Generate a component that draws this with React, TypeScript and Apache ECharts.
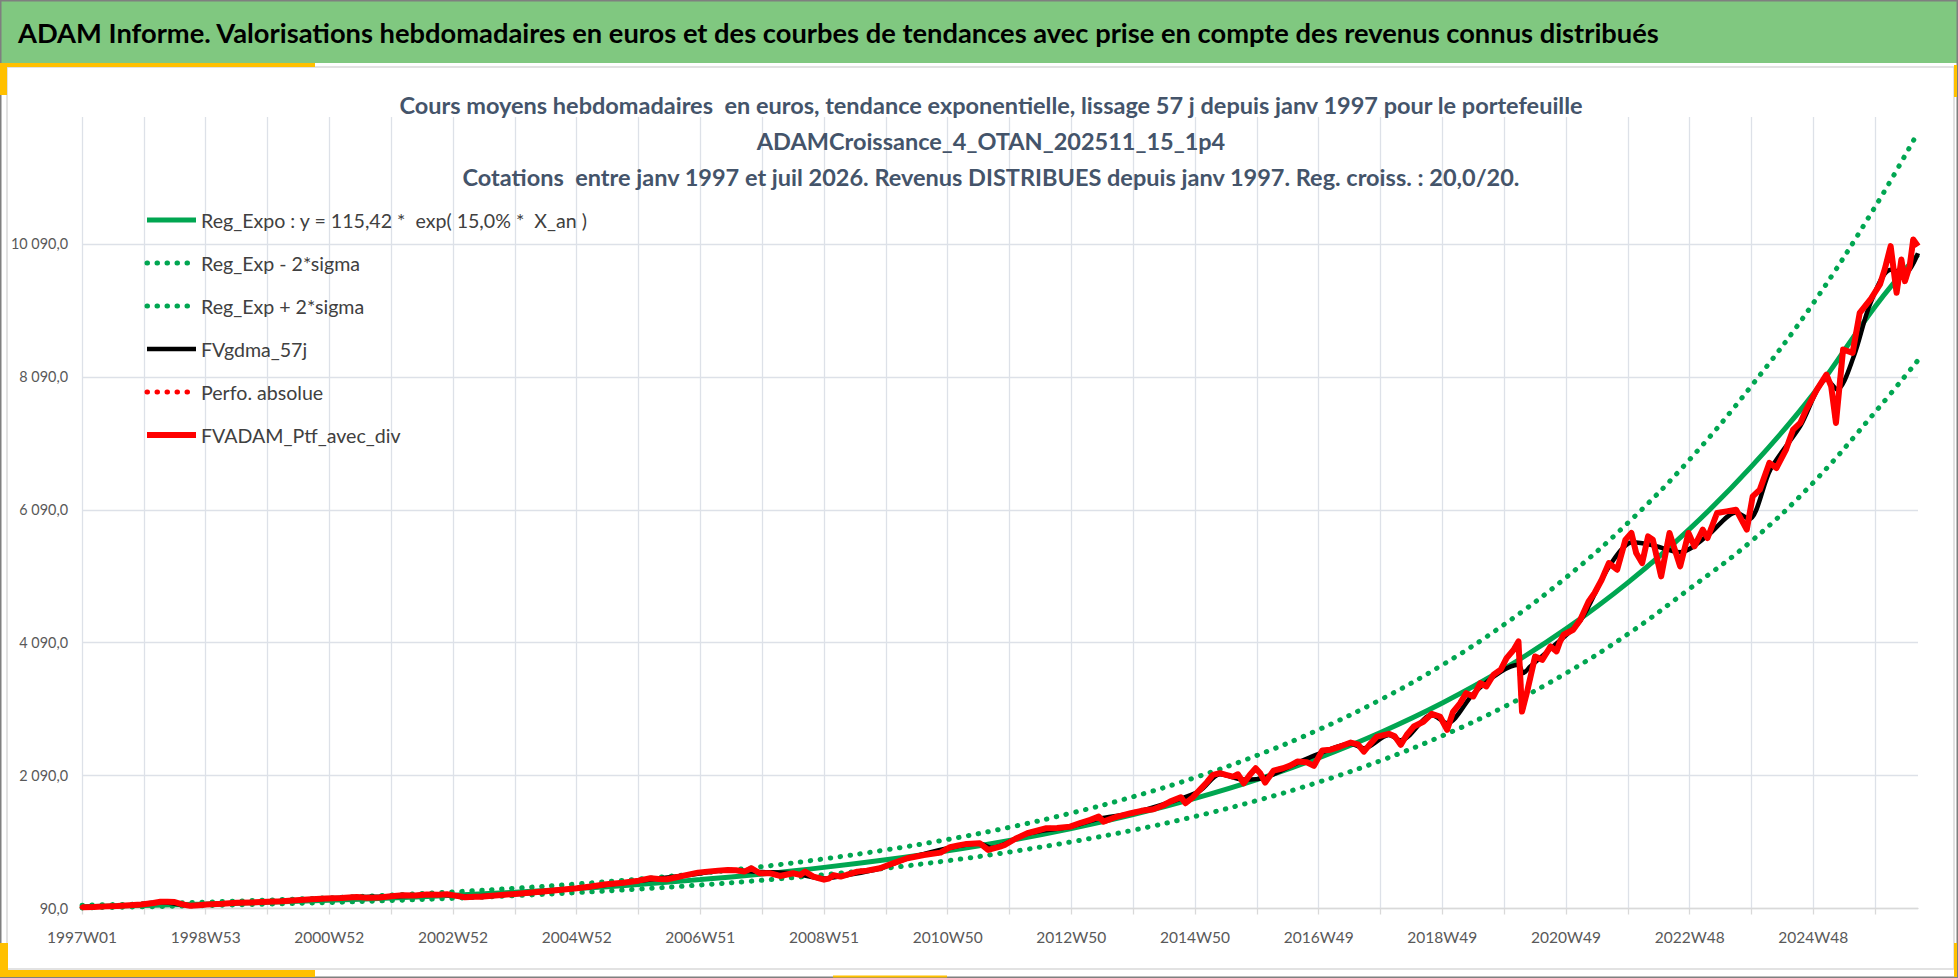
import React, { useEffect, useRef } from "react";
import * as echarts from "echarts";

const MAIN_TITLE =
  "ADAM Informe. Valorisations hebdomadaires en euros et des courbes de tendances avec prise en compte des revenus connus distribués";
const SUBTITLE_LINES = [
  "Cours moyens hebdomadaires  en euros, tendance exponentielle, lissage 57 j depuis janv 1997 pour le portefeuille",
  "ADAMCroissance_4_OTAN_202511_15_1p4",
  "Cotations  entre janv 1997 et juil 2026. Revenus DISTRIBUES depuis janv 1997. Reg. croiss. : 20,0/20.",
];
const X_TICK_LABELS = [
  "1997W01", "1998W53", "2000W52", "2002W52", "2004W52", "2006W51", "2008W51", "2010W50",
  "2012W50", "2014W50", "2016W49", "2018W49", "2020W49", "2022W48", "2024W48",
];
const WEEKS_PER_LABEL = 104;
const WEEKS_PER_GRID = 52;
const LAST_WEEK = 1544;
const Y_MIN = 90;
const Y_MAX = 12000;
const Y_STEP = 2000;

const SERIES_NAMES = [
  "Reg_Expo : y = 115,42 *  exp( 15,0% *  X_an )",
  "Reg_Exp - 2*sigma",
  "Reg_Exp + 2*sigma",
  "FVgdma_57j",
  "Perfo. absolue",
  "FVADAM_Ptf_avec_div",
];

const REG_WEEKS = [0, 52, 104, 156, 208, 260, 312, 364, 416, 468, 520, 572, 624, 676, 728, 780, 832, 884, 936, 988, 1040, 1092, 1144, 1196, 1248, 1300, 1352, 1404, 1456, 1508, 1544];
const REG_EXPO = [117, 136, 158, 184, 213, 248, 288, 335, 389, 452, 525, 610, 709, 824, 957, 1112, 1293, 1502, 1746, 2028, 2357, 2739, 3182, 3698, 4297, 4993, 5802, 6742, 7834, 9150, 9930];
const REG_PLUS = [138, 160, 186, 217, 251, 293, 340, 395, 459, 533, 620, 720, 837, 972, 1129, 1312, 1526, 1772, 2060, 2393, 2781, 3232, 3755, 4364, 5070, 5892, 6846, 7956, 9200, 10650, 11770];
const REG_MINUS = [99, 115, 134, 155, 180, 210, 243, 283, 329, 382, 444, 515, 599, 696, 809, 940, 1093, 1269, 1475, 1714, 1992, 2314, 2689, 3125, 3631, 4219, 4903, 5620, 6500, 7560, 8340];

const FVGDMA: [number, number][] = [
  [0, 110], [40, 138], [66, 185], [91, 140], [130, 172], [156, 190], [205, 238], [231, 262], [260, 270],
  [300, 300], [322, 268], [364, 305], [416, 392], [468, 505], [509, 590], [543, 665], [570, 640], [598, 618],
  [624, 540], [643, 590], [671, 690], [694, 840], [730, 1005], [755, 1068], [765, 1000], [795, 1215],
  [831, 1320], [855, 1440], [882, 1520], [915, 1690], [940, 1860], [957, 2110], [977, 2030], [995, 2060],
  [1022, 2280], [1043, 2440], [1067, 2570], [1078, 2500], [1099, 2700], [1109, 2620], [1135, 3000],
  [1148, 2880], [1170, 3320], [1193, 3650], [1208, 3757], [1212, 3632], [1218, 3732], [1235, 4000],
  [1260, 4420], [1284, 5230], [1304, 5600], [1320, 5560], [1344, 5450], [1367, 5700], [1391, 6050],
  [1402, 5950], [1420, 6700], [1445, 7350], [1467, 8050], [1476, 7900], [1490, 8400], [1504, 9200],
  [1521, 9700], [1533, 9650], [1544, 9950],
];

const FVADAM: [number, number][] = [
  [0, 110], [10, 114], [20, 122], [30, 128], [40, 138], [50, 150], [60, 172], [66, 192], [72, 190], [78, 186],
  [85, 150], [91, 130], [98, 140], [105, 150], [118, 160], [130, 175], [143, 182], [156, 192], [168, 200],
  [180, 215], [193, 228], [205, 240], [218, 248], [231, 263], [240, 250], [250, 255], [260, 275], [270, 290],
  [280, 285], [290, 300], [300, 296], [307, 304], [315, 280], [322, 259], [330, 265], [335, 268], [350, 290],
  [364, 308], [378, 330], [390, 350], [403, 372], [416, 394], [428, 420], [441, 454], [455, 478], [468, 509],
  [478, 545], [485, 535], [492, 530], [500, 560], [509, 595], [518, 630], [526, 645], [535, 660], [543, 670],
  [550, 665], [557, 645], [563, 695], [570, 620], [579, 620], [587, 580], [598, 620], [604, 595], [608, 645],
  [615, 570], [620, 545], [624, 524], [628, 540], [632, 590], [638, 570], [643, 595], [652, 645], [660, 660],
  [671, 695], [682, 770], [694, 846], [708, 896], [722, 931], [730, 1012], [737, 1040], [744, 1062],
  [755, 1072], [762, 971], [772, 1021], [776, 1046], [785, 1140], [795, 1222], [803, 1260], [811, 1298],
  [820, 1300], [831, 1322], [840, 1380], [848, 1423], [855, 1472], [859, 1397], [870, 1470], [882, 1524],
  [891, 1560], [901, 1584], [909, 1640], [915, 1698], [924, 1765], [928, 1674], [934, 1760], [940, 1875],
  [946, 1990], [951, 2100], [957, 2126], [962, 2100], [968, 2075], [972, 2110], [977, 1975], [982, 2100],
  [987, 2201], [991, 2120], [995, 1985], [1002, 2165], [1010, 2200], [1016, 2240], [1022, 2301], [1030, 2290],
  [1036, 2236], [1043, 2467], [1050, 2480], [1058, 2527], [1067, 2587], [1073, 2560], [1078, 2451],
  [1083, 2560], [1089, 2677], [1099, 2718], [1104, 2680], [1109, 2552], [1114, 2700], [1120, 2828],
  [1128, 2900], [1135, 3019], [1142, 2979], [1148, 2778], [1153, 3050], [1159, 3180], [1164, 3331],
  [1170, 3280], [1176, 3481], [1181, 3431], [1187, 3607], [1193, 3682], [1198, 3858], [1204, 3983],
  [1208, 4108], [1211, 3054], [1215, 3331], [1222, 3882], [1228, 3832], [1235, 4033], [1240, 3958],
  [1243, 4108], [1246, 4209], [1254, 4284], [1260, 4435], [1267, 4711], [1272, 4837], [1278, 5037],
  [1284, 5288], [1291, 5188], [1298, 5640], [1303, 5740], [1307, 5439], [1312, 5288], [1317, 5690],
  [1321, 5640], [1328, 5087], [1335, 5740], [1344, 5238], [1351, 5740], [1356, 5539], [1363, 5790],
  [1367, 5665], [1375, 6042], [1383, 6066], [1391, 6091], [1400, 5790], [1405, 6292], [1411, 6393],
  [1419, 6795], [1425, 6719], [1433, 6995], [1439, 7296], [1445, 7397], [1450, 7597], [1459, 7898],
  [1467, 8124], [1471, 7948], [1475, 7397], [1481, 8501], [1489, 8451], [1495, 9054], [1504, 9254],
  [1512, 9480], [1516, 9706], [1521, 10057], [1526, 9355], [1530, 9857], [1533, 9530], [1537, 9756],
  [1540, 10157], [1544, 10057],
];

const FONT = "Lato, 'Open Sans', sans-serif";
const GRID_COLOR = "#DDE1E8";
const GREEN = "#00A651";
const RED = "#FF0000";

// Fit a font size so that a text spans the width measured on the reference.
function fitFont(text: string, weight: string, targetWidth: number, fallback: number): number {
  try {
    const ctx = document.createElement("canvas").getContext("2d");
    if (!ctx) return fallback;
    ctx.font = `${weight} 100px ${FONT}`;
    const w = ctx.measureText(text).width;
    if (!w) return fallback;
    return Math.round((100 * targetWidth / w) * 10) / 10;
  } catch (e) {
    return fallback;
  }
}

function fmtY(v: number): string {
  const s = v.toFixed(1);
  const [i, d] = s.split(".");
  return i.replace(/\B(?=(\d{3})+(?!\d))/g, " ") + "," + d;
}

function buildOption(): any {
  const titleSize = fitFont(MAIN_TITLE, "bold", 1645, 27);
  const subSize = fitFont(SUBTITLE_LINES[0], "bold", 1184, 23);
  const legendSize = fitFont(SERIES_NAMES[0], "normal", 387, 19);
  const yLabSize = fitFont("10 090,0", "normal", 57, 15);
  const xLabSize = fitFont("2010W50", "normal", 70, 16);

  const regData = (vals: number[]) => REG_WEEKS.map((w, i) => [w, vals[i]]);
  const dotted = { type: [0.5, 9.5], cap: "round", width: 5 };
  return {
    animation: false,
    textStyle: { fontFamily: FONT },
    graphic: [
      { type: "rect", shape: { x: 0, y: 0, width: 1958, height: 63 }, style: { fill: "#80C880" }, z: 0 },
      { type: "rect", shape: { x: 7, y: 67, width: 1947, height: 902 }, style: { fill: "none", stroke: "#D9D9D9", lineWidth: 1.5 }, z: 0 },
      { type: "rect", shape: { x: 0.75, y: 0.75, width: 1956.5, height: 976.5 }, style: { fill: "none", stroke: "#7F7F7F", lineWidth: 1.5 }, z: 1 },
      { type: "rect", shape: { x: 0, y: 63, width: 315, height: 4 }, style: { fill: "#FFC000" }, z: 1 },
      { type: "rect", shape: { x: 0, y: 63, width: 7, height: 32 }, style: { fill: "#FFC000" }, z: 1 },
      { type: "rect", shape: { x: 0, y: 970, width: 315, height: 7 }, style: { fill: "#FFC000" }, z: 1 },
      { type: "rect", shape: { x: 0, y: 943, width: 8, height: 34 }, style: { fill: "#FFC000" }, z: 1 },
      { type: "rect", shape: { x: 1954, y: 65, width: 3, height: 32 }, style: { fill: "#FFC000" }, z: 1 },
      { type: "rect", shape: { x: 1954, y: 943, width: 3, height: 34 }, style: { fill: "#FFC000" }, z: 1 },
      { type: "rect", shape: { x: 833, y: 975.5, width: 114, height: 2 }, style: { fill: "#FFC000" }, z: 1 },
      {
        type: "text",
        x: 18,
        y: 32,
        z: 2,
        style: {
          text: MAIN_TITLE,
          fill: "#000000",
          font: `bold ${titleSize}px ${FONT}`,
          verticalAlign: "middle",
        },
      },
    ],
    title: {
      text: SUBTITLE_LINES.join("\n"),
      left: 986,
      top: 82,
      textAlign: "center",
      textStyle: { color: "#44546A", fontSize: subSize, fontWeight: "bold", lineHeight: 36, fontFamily: FONT },
    },
    legend: {
      orient: "vertical",
      left: 139,
      top: 205,
      itemWidth: 49,
      itemHeight: 14,
      itemGap: 23,
      selectedMode: false,
      data: SERIES_NAMES,
      itemStyle: { opacity: 0, borderWidth: 0 },
      lineStyle: { width: "inherit", type: "inherit", cap: "inherit" },
      textStyle: { fontSize: legendSize, color: "#404040", fontFamily: FONT },
    },
    grid: { left: 82, right: 40, top: 117, bottom: 69.5, containLabel: false },
    xAxis: {
      type: "value",
      min: 0,
      max: LAST_WEEK,
      interval: WEEKS_PER_GRID,
      axisLine: { show: true, lineStyle: { color: "#D9D9D9", width: 1.3 } },
      axisTick: { show: true, length: 6, lineStyle: { color: "#D9D9D9", width: 1.3 } },
      splitLine: { show: true, showMaxLine: false, lineStyle: { color: GRID_COLOR, width: 1.3 } },
      axisLabel: {
        margin: 20,
        fontSize: xLabSize,
        color: "#595959",
        fontFamily: FONT,
        showMaxLabel: false,
        formatter: (v: number) =>
          v % WEEKS_PER_LABEL === 0 ? X_TICK_LABELS[v / WEEKS_PER_LABEL] ?? "" : "",
      },
    },
    yAxis: {
      type: "value",
      min: Y_MIN,
      max: Y_MAX,
      interval: Y_STEP,
      axisLine: { show: false },
      axisTick: { show: false },
      splitLine: { show: true, showMaxLine: false, lineStyle: { color: GRID_COLOR, width: 1.3 } },
      axisLabel: {
        margin: 14,
        fontSize: yLabSize,
        color: "#595959",
        fontFamily: FONT,
        showMaxLabel: false,
        formatter: (v: number) => fmtY(v),
      },
    },
    series: [
      {
        name: SERIES_NAMES[0], type: "line", data: regData(REG_EXPO), symbol: "none", smooth: 0.4,
        lineStyle: { color: GREEN, width: 5 }, itemStyle: { color: GREEN }, z: 2,
      },
      {
        name: SERIES_NAMES[1], type: "line", data: regData(REG_MINUS), symbol: "none", smooth: 0.4,
        lineStyle: { color: GREEN, ...dotted }, itemStyle: { color: GREEN }, z: 2,
      },
      {
        name: SERIES_NAMES[2], type: "line", data: regData(REG_PLUS), symbol: "none", smooth: 0.4,
        lineStyle: { color: GREEN, ...dotted }, itemStyle: { color: GREEN }, z: 2,
      },
      {
        name: SERIES_NAMES[3], type: "line", data: FVGDMA, symbol: "none", smooth: 0.3,
        lineStyle: { color: "#000000", width: 4.5 }, itemStyle: { color: "#000000" }, z: 3,
      },
      {
        name: SERIES_NAMES[4], type: "line", data: FVADAM, symbol: "none",
        lineStyle: { color: RED, ...dotted }, itemStyle: { color: RED }, z: 3,
      },
      {
        name: SERIES_NAMES[5], type: "line", data: FVADAM, symbol: "none",
        lineStyle: { color: RED, width: 6, join: "round" }, itemStyle: { color: RED }, z: 4,
      },
    ],
  };
}

export default function App() {
  const ref = useRef<HTMLDivElement>(null);
  useEffect(() => {
    document.body.style.margin = "0";
    document.body.style.overflow = "hidden";
    const chart = echarts.init(ref.current!, null, { renderer: "svg" });
    chart.setOption(buildOption());
    return () => chart.dispose();
  }, []);
  return <div ref={ref} style={{ width: 1958, height: 978, background: "#ffffff" }} />;
}
